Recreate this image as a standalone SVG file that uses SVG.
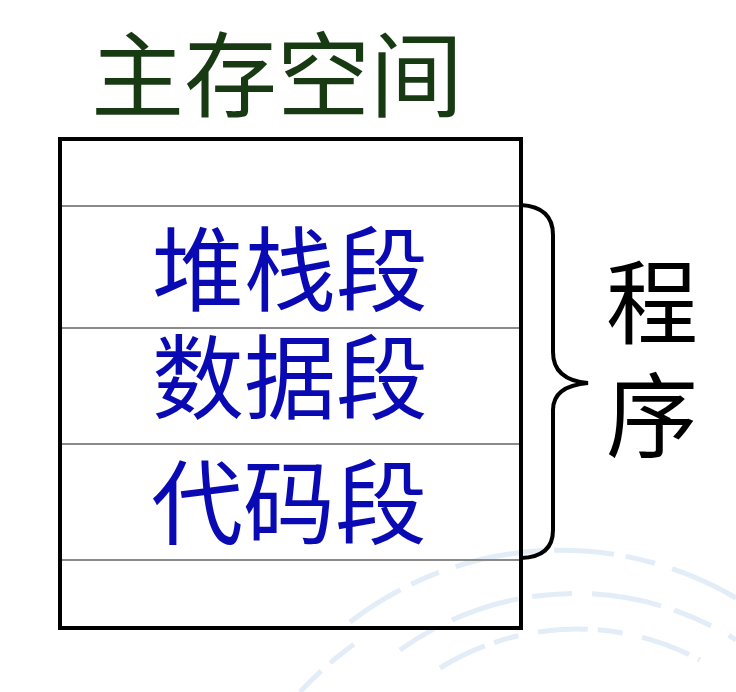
<svg xmlns="http://www.w3.org/2000/svg" width="736" height="692" viewBox="0 0 736 692">
<style>
.cn{font-family:"Noto Sans CJK SC","Noto Sans CJK JP",sans-serif;text-anchor:middle}
.seg{font-size:92px;fill:#0a0ab4}
.sep{stroke:#8a8a8a;stroke-width:2}
.wm{fill:none;stroke:#cfe1f3;stroke-width:5;opacity:0.6}
</style>
<rect width="736" height="692" fill="#ffffff"/>
<g id="watermark">
<path class="wm" d="M350,622 A345,345 0 0 1 736,598" stroke-dasharray="60 12 30 18 90 10"/>
<path class="wm" d="M400,650 A300,300 0 0 1 736,640" stroke-dasharray="40 20 70 14" opacity="0.4"/>
<path class="wm" d="M440,668 A260,260 0 0 1 700,660" stroke-dasharray="50 10 25 20"/>
<path class="wm" d="M300,692 A360,360 0 0 1 360,640" stroke-dasharray="30 12"/>
</g>
<g id="title"><text class="cn" x="277" y="110" font-size="93" fill="#183a12">主存空间</text></g>
<g id="memory">
<rect x="60" y="139" width="461" height="489" fill="none" stroke="#000" stroke-width="4"/>
<line class="sep" x1="62" y1="206" x2="519" y2="206"/>
<line class="sep" x1="62" y1="328" x2="519" y2="328"/>
<line class="sep" x1="62" y1="444" x2="519" y2="444"/>
<line class="sep" x1="62" y1="560" x2="519" y2="560"/>
</g>
<g id="stack"><text class="cn seg" x="290" y="304">堆栈段</text></g>
<g id="data"><text class="cn seg" x="290" y="412">数据段</text></g>
<g id="code"><text class="cn seg" x="289" y="537">代码段</text></g>
<g id="connectors">
<path d="M521,205 Q553,207 553,235 L553,352 Q553,380 588,383 Q553,386 553,410 L553,530 Q553,557 521,558" fill="none" stroke="#000" stroke-width="4"/>
</g>
<g id="program">
<text class="cn" x="652" y="337" font-size="92" fill="#000">程</text>
<text class="cn" x="652" y="450" font-size="92" fill="#000">序</text>
</g>
</svg>
